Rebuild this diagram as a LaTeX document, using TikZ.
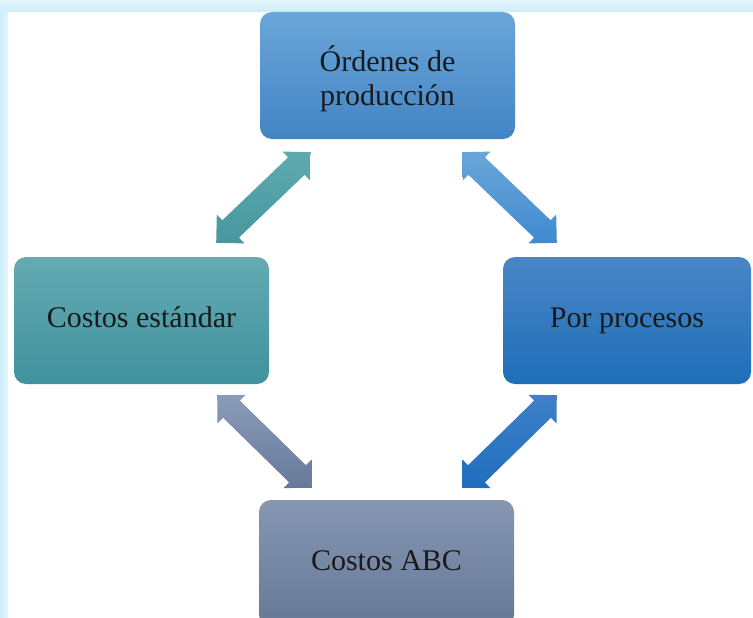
\documentclass[tikz,border=0pt]{standalone}
\usepackage{fontspec}
\setmainfont{Liberation Serif}
\usetikzlibrary{calc}
\definecolor{bandtop}{HTML}{E4F6FD}
\definecolor{bandbot}{HTML}{CDEEFB}
\definecolor{textc}{HTML}{1A1A1A}
\definecolor{ttop}{HTML}{6AA6D8}
\definecolor{tbot}{HTML}{4384C5}
\definecolor{ltop}{HTML}{64AAB2}
\definecolor{lbot}{HTML}{40929E}
\definecolor{rtop}{HTML}{4A86C6}
\definecolor{rbot}{HTML}{1E6EB9}
\definecolor{btop}{HTML}{8797B2}
\definecolor{bbot}{HTML}{647896}
\definecolor{a1top}{HTML}{5FAAB0}
\definecolor{a1bot}{HTML}{46979F}
\definecolor{a2top}{HTML}{6AA6D8}
\definecolor{a2bot}{HTML}{408AD0}
\definecolor{a3top}{HTML}{8A9CB8}
\definecolor{a3bot}{HTML}{67799A}
\definecolor{a4top}{HTML}{3F80C8}
\definecolor{a4bot}{HTML}{1F6EBE}
% double block arrow between two named coordinates
\newcommand\blockarrow[4]{%
  \shade[top color=#3, bottom color=#4]
    (#1)
    -- ($(#1)!20pt!(#2)!20pt!90:(#2)$)
    -- ($(#1)!20pt!(#2)!12pt!90:(#2)$)
    -- ($(#2)!20pt!(#1)!12pt!-90:(#1)$)
    -- ($(#2)!20pt!(#1)!20pt!-90:(#1)$)
    -- (#2)
    -- ($(#2)!20pt!(#1)!20pt!90:(#1)$)
    -- ($(#2)!20pt!(#1)!12pt!90:(#1)$)
    -- ($(#1)!20pt!(#2)!12pt!-90:(#2)$)
    -- ($(#1)!20pt!(#2)!20pt!-90:(#2)$)
    -- cycle;}
\begin{document}
\begin{tikzpicture}[x=1pt,y=-1pt,
  box/.style={rounded corners=12pt, minimum width=255pt, minimum height=127pt,
    inner sep=0pt, align=center, text=textc,
    font=\fontsize{30}{34}\selectfont},
  oneline/.style={text height=20pt, text depth=7pt}]
\useasboundingbox (0,0) rectangle (753,618);
\clip (0,0) rectangle (753,618);
% background frame
\shade[top color=bandtop, bottom color=bandbot] (0,0) rectangle (753,12);
\shade[left color=bandbot, right color=bandtop] (0,12) rectangle (8,618);
\fill[white] (8,12) rectangle (753,618);
% boxes
\node[box, text depth=0pt, top color=ttop, bottom color=tbot] (T) at (387.5,75.5) {Órdenes de\\producción};
\node[box, oneline, top color=ltop, bottom color=lbot] (L) at (141.5,320.5) {Costos estándar};
\node[box, oneline, minimum width=248pt, top color=rtop, bottom color=rbot] (R) at (627,320.5) {Por procesos};
\node[box, oneline, top color=btop, bottom color=bbot] (B) at (386.5,563.5) {Costos ABC};
% arrow end points
\coordinate (tl1) at ($(L.north east)+(-53,-14)$);
\coordinate (tl2) at ($(T.south west)+(51,13)$);
\coordinate (tr1) at ($(T.south east)+(-53,13)$);
\coordinate (tr2) at ($(R.north west)+(54,-14)$);
\coordinate (bl1) at ($(L.south east)+(-52,11)$);
\coordinate (bl2) at ($(B.north west)+(53,-12)$);
\coordinate (br1) at ($(R.south west)+(54,11)$);
\coordinate (br2) at ($(B.north east)+(-52,-12)$);
\blockarrow{tl1}{tl2}{a1top}{a1bot}
\blockarrow{tr1}{tr2}{a2top}{a2bot}
\blockarrow{bl1}{bl2}{a3top}{a3bot}
\blockarrow{br1}{br2}{a4top}{a4bot}
\end{tikzpicture}
\end{document}
